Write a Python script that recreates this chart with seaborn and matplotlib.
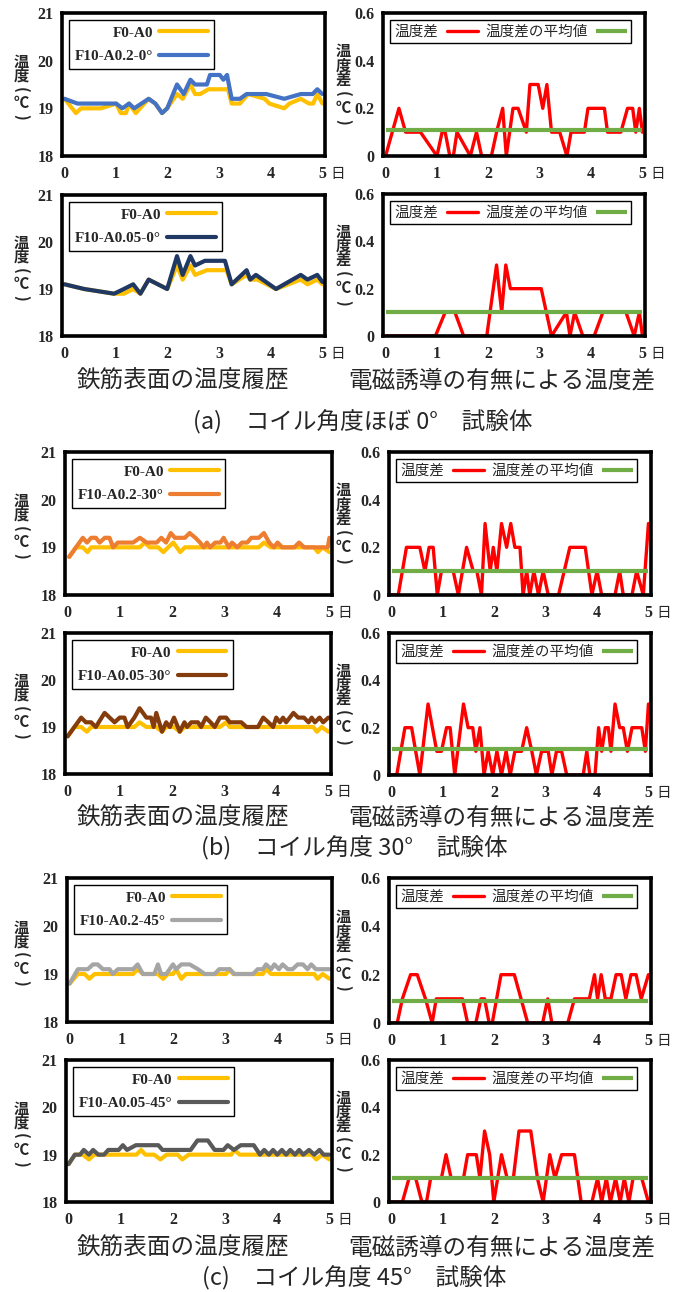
import matplotlib
matplotlib.use("Agg")
import matplotlib.pyplot as plt
import seaborn as sns
from matplotlib.font_manager import FontProperties
from matplotlib.ticker import FixedLocator, FixedFormatter

# ---------------------------------------------------------------- data
# (day, temperature °C) pairs for each sensor, and (day, °C) for differences
A1_F0 = [(0, 19.2), (0.22, 18.9), (0.32, 19.0), (0.71, 19.0), (1.0, 19.1), (1.09, 18.9), (1.19, 18.9),
         (1.25, 19.1), (1.38, 18.9), (1.63, 19.2), (1.76, 19.1), (1.89, 18.9), (1.99, 19.0), (2.18, 19.3),
         (2.29, 19.2), (2.44, 19.5), (2.53, 19.3), (2.63, 19.3), (2.79, 19.4), (3.17, 19.4), (3.24, 19.1),
         (3.40, 19.1), (3.56, 19.3), (3.88, 19.2), (3.97, 19.1), (4.26, 19.0), (4.36, 19.1), (4.58, 19.2),
         (4.74, 19.1), (4.82, 19.1), (4.90, 19.3), (5.0, 19.1)]
A1_F10 = [(0, 19.2), (0.25, 19.1), (1.0, 19.1), (1.12, 19.0), (1.25, 19.1), (1.35, 19.0), (1.63, 19.2),
          (1.76, 19.1), (1.89, 18.9), (1.99, 19.0), (2.18, 19.5), (2.31, 19.3), (2.44, 19.6), (2.53, 19.5),
          (2.76, 19.5), (2.82, 19.7), (3.01, 19.7), (3.08, 19.6), (3.15, 19.7), (3.24, 19.2), (3.40, 19.2),
          (3.53, 19.3), (3.91, 19.3), (4.26, 19.2), (4.58, 19.3), (4.81, 19.3), (4.90, 19.4), (5.0, 19.3)]
A1_DIFF = [(0, 0), (0.26, 0.2), (0.39, 0.1), (0.68, 0.1), (1.0, 0), (1.1, 0.1), (1.16, 0.1), (1.25, 0),
           (1.32, 0), (1.39, 0.1), (1.65, 0), (1.77, 0.1), (1.87, 0), (2.06, 0), (2.16, 0.1), (2.28, 0.2),
           (2.35, 0), (2.48, 0.2), (2.58, 0.2), (2.74, 0.1), (2.81, 0.3), (2.97, 0.3), (3.06, 0.2), (3.14, 0.3),
           (3.23, 0.1), (3.39, 0.1), (3.53, 0), (3.61, 0.1), (3.87, 0.1), (3.94, 0.2), (4.26, 0.2), (4.32, 0.1),
           (4.58, 0.1), (4.71, 0.2), (4.81, 0.2), (4.87, 0.1), (4.94, 0.2), (5.0, 0.1)]
A1_MEAN = 0.11

A2_F0 = [(0, 19.1), (0.38, 19.0), (0.96, 18.9), (1.15, 18.9), (1.33, 19.0), (1.47, 18.9), (1.63, 19.2),
         (1.99, 19.0), (2.18, 19.5), (2.29, 19.2), (2.44, 19.5), (2.53, 19.3), (2.76, 19.4), (3.14, 19.4),
         (3.24, 19.1), (3.53, 19.3), (3.60, 19.2), (3.74, 19.2), (4.10, 19.0), (4.58, 19.2), (4.71, 19.1),
         (4.90, 19.2), (5.0, 19.1)]
A2_F10 = [(0, 19.1), (0.38, 19.0), (0.96, 18.9), (1.15, 19.0), (1.33, 19.1), (1.47, 18.9), (1.63, 19.2),
          (1.99, 19.0), (2.18, 19.7), (2.29, 19.3), (2.44, 19.7), (2.53, 19.5), (2.72, 19.6), (3.11, 19.6),
          (3.24, 19.1), (3.53, 19.4), (3.60, 19.2), (3.71, 19.3), (4.10, 19.0), (4.58, 19.3), (4.71, 19.2),
          (4.90, 19.3), (5.0, 19.15)]
A2_DIFF = [(0, 0), (0.97, 0), (1.16, 0.1), (1.35, 0.1), (1.52, 0), (1.97, 0), (2.16, 0.3), (2.26, 0.1),
           (2.34, 0.3), (2.43, 0.2), (3.03, 0.2), (3.23, 0), (3.52, 0.1), (3.59, 0), (3.68, 0.1), (3.84, 0),
           (4.06, 0), (4.23, 0.1), (4.68, 0.1), (4.84, 0), (4.94, 0.1), (5.0, 0)]
A2_MEAN = 0.10

B1_F0 = [(0.03, 18.8), (0.16, 19.0), (0.29, 19.0), (0.38, 18.9), (0.45, 19.0), (1.38, 19.0), (1.47, 19.1),
         (1.57, 19.0), (1.73, 19.0), (1.83, 18.9), (1.92, 19.0), (2.02, 19.1), (2.15, 18.9), (2.24, 19.0),
         (3.65, 19.0), (3.75, 19.1), (3.88, 19.0), (4.71, 19.0), (4.78, 18.9), (4.87, 19.0), (5.0, 18.9)]
B1_F10 = [(0.03, 18.8), (0.16, 19.0), (0.29, 19.2), (0.37, 19.1), (0.45, 19.2), (0.54, 19.2), (0.61, 19.1),
          (0.71, 19.2), (0.80, 19.2), (0.87, 19.0), (0.96, 19.1), (1.25, 19.1), (1.38, 19.2), (1.51, 19.1),
          (1.70, 19.1), (1.79, 19.2), (1.88, 19.1), (1.97, 19.3), (2.05, 19.2), (2.24, 19.2), (2.33, 19.3),
          (2.44, 19.2), (2.53, 19.1), (2.60, 19.0), (2.66, 19.1), (2.72, 19.0), (2.82, 19.1), (2.92, 19.1),
          (2.98, 19.2), (3.08, 19.0), (3.14, 19.1), (3.24, 19.0), (3.33, 19.1), (3.43, 19.1), (3.51, 19.2),
          (3.65, 19.2), (3.75, 19.3), (3.85, 19.1), (3.94, 19.0), (4.01, 19.1), (4.10, 19.0), (4.33, 19.0),
          (4.42, 19.1), (4.52, 19.0), (4.97, 19.0), (5.0, 19.2)]
B1_DIFF = [(0, 0), (0.13, 0), (0.29, 0.2), (0.55, 0.2), (0.65, 0.1), (0.73, 0.2), (0.81, 0.2), (0.89, 0),
           (0.97, 0.1), (1.2, 0.1), (1.3, 0), (1.46, 0.2), (1.59, 0.1), (1.66, 0.1), (1.75, 0), (1.82, 0.3),
           (1.92, 0.1), (1.98, 0.2), (2.05, 0.1), (2.14, 0.3), (2.24, 0.2), (2.32, 0.3), (2.4, 0.2), (2.5, 0.2),
           (2.56, 0), (2.63, 0.1), (2.69, 0), (2.77, 0.1), (2.86, 0), (2.95, 0.1), (3.05, 0), (3.25, 0),
           (3.47, 0.2), (3.77, 0.2), (3.9, 0), (4.0, 0.1), (4.09, 0), (4.35, 0), (4.44, 0.1), (4.51, 0),
           (4.68, 0), (4.77, 0.1), (4.9, 0), (5.0, 0.3)]
B1_MEAN = 0.10

B2_F0 = [(0, 18.8), (0.13, 19.0), (0.26, 19.0), (0.37, 18.9), (0.45, 19.0), (1.28, 19.0), (1.38, 19.1),
         (1.51, 19.0), (1.70, 19.0), (1.81, 18.9), (1.89, 19.0), (2.04, 19.0), (2.15, 18.9), (2.24, 19.0),
         (2.92, 19.0), (3.04, 19.1), (3.11, 19.0), (4.71, 19.0), (4.78, 18.9), (4.87, 19.0), (5.0, 18.9)]
B2_F10 = [(0, 18.8), (0.13, 19.0), (0.26, 19.2), (0.35, 19.1), (0.45, 19.1), (0.54, 19.0), (0.71, 19.3),
          (0.90, 19.1), (1.0, 19.2), (1.09, 19.2), (1.15, 19.0), (1.28, 19.2), (1.38, 19.4), (1.51, 19.2),
          (1.60, 19.2), (1.65, 19.0), (1.70, 19.3), (1.81, 18.9), (1.89, 19.1), (1.96, 19.0), (2.04, 19.2),
          (2.15, 18.9), (2.24, 19.1), (2.29, 19.0), (2.37, 19.1), (2.50, 19.1), (2.56, 19.0), (2.65, 19.2),
          (2.74, 19.1), (2.82, 19.0), (2.92, 19.2), (3.04, 19.2), (3.11, 19.1), (3.33, 19.1), (3.43, 19.0),
          (3.65, 19.0), (3.75, 19.2), (3.85, 19.1), (3.94, 19.0), (4.0, 19.2), (4.07, 19.1), (4.13, 19.2),
          (4.19, 19.1), (4.33, 19.3), (4.42, 19.2), (4.53, 19.2), (4.62, 19.1), (4.68, 19.2), (4.74, 19.1),
          (4.83, 19.2), (4.90, 19.1), (5.0, 19.2)]
B2_DIFF = [(0, 0), (0.1, 0), (0.26, 0.2), (0.39, 0.2), (0.55, 0), (0.71, 0.3), (0.88, 0.1), (0.97, 0.1),
           (1.07, 0.2), (1.14, 0.2), (1.23, 0), (1.4, 0.3), (1.49, 0.2), (1.58, 0.2), (1.64, 0.1), (1.72, 0.2),
           (1.8, 0), (1.88, 0.1), (1.97, 0), (2.05, 0.1), (2.14, 0), (2.23, 0.1), (2.31, 0), (2.4, 0.1),
           (2.53, 0.1), (2.63, 0.2), (2.73, 0.1), (2.82, 0), (2.92, 0.1), (3.05, 0.1), (3.12, 0), (3.21, 0.1),
           (3.31, 0.1), (3.41, 0), (3.73, 0), (3.8, 0.1), (3.86, 0), (3.96, 0), (4.03, 0.2), (4.09, 0.1),
           (4.16, 0.2), (4.22, 0.2), (4.27, 0.1), (4.35, 0.3), (4.44, 0.2), (4.51, 0.2), (4.59, 0.1),
           (4.68, 0.2), (4.87, 0.2), (4.94, 0.1), (5.0, 0.3)]
B2_MEAN = 0.11

C1_F0 = [(0, 18.8), (0.16, 19.0), (0.29, 19.0), (0.38, 18.9), (0.48, 19.0), (1.22, 19.0), (1.31, 19.1),
         (1.41, 19.0), (1.70, 19.0), (1.80, 18.9), (1.89, 19.0), (1.99, 19.0), (2.05, 19.1), (2.15, 18.9),
         (2.24, 19.0), (3.01, 19.0), (3.08, 19.1), (3.15, 19.0), (3.72, 19.0), (3.78, 19.1), (3.88, 19.0),
         (4.71, 19.0), (4.77, 18.9), (4.87, 19.0), (5.0, 18.9)]
C1_F10 = [(0, 18.8), (0.16, 19.1), (0.35, 19.1), (0.45, 19.2), (0.54, 19.2), (0.64, 19.1), (0.77, 19.1),
          (0.83, 19.0), (0.93, 19.1), (1.22, 19.1), (1.31, 19.2), (1.41, 19.0), (1.63, 19.0), (1.70, 19.2),
          (1.76, 19.0), (1.86, 19.0), (1.99, 19.2), (2.05, 19.1), (2.15, 19.2), (2.31, 19.2), (2.47, 19.1),
          (2.60, 19.0), (2.79, 19.0), (2.88, 19.1), (3.08, 19.1), (3.17, 19.0), (3.53, 19.0), (3.62, 19.1),
          (3.72, 19.1), (3.78, 19.2), (3.88, 19.1), (3.94, 19.2), (4.03, 19.1), (4.10, 19.2), (4.20, 19.1),
          (4.29, 19.1), (4.39, 19.2), (4.49, 19.2), (4.58, 19.1), (4.65, 19.2), (4.74, 19.1), (5.0, 19.1)]
C1_DIFF = [(0, 0), (0.11, 0), (0.21, 0.1), (0.37, 0.2), (0.5, 0.2), (0.66, 0.1), (0.79, 0), (0.87, 0.1),
           (1.38, 0.1), (1.48, 0), (1.64, 0), (1.74, 0.1), (1.81, 0.1), (1.9, 0), (1.96, 0), (2.13, 0.2),
           (2.39, 0.2), (2.65, 0), (2.94, 0), (3.04, 0.1), (3.12, 0), (3.43, 0), (3.56, 0.1), (3.85, 0.1),
           (3.95, 0.2), (4.01, 0.1), (4.08, 0.2), (4.16, 0.1), (4.27, 0.1), (4.37, 0.2), (4.47, 0.2),
           (4.56, 0.1), (4.66, 0.2), (4.76, 0.2), (4.86, 0.1), (5.0, 0.2)]
C1_MEAN = 0.09

C2_F0 = [(0, 18.8), (0.12, 19.0), (0.27, 19.0), (0.39, 18.9), (0.49, 19.0), (1.30, 19.0), (1.39, 19.1),
         (1.47, 19.0), (1.64, 19.0), (1.76, 18.9), (1.88, 19.0), (2.09, 19.0), (2.18, 18.9), (2.30, 19.0),
         (3.12, 19.0), (3.18, 19.1), (3.28, 19.0), (4.66, 19.0), (4.75, 18.9), (4.86, 19.0), (5.0, 18.9)]
C2_F10 = [(0, 18.8), (0.12, 19.0), (0.22, 19.0), (0.29, 19.1), (0.39, 19.0), (0.47, 19.1), (0.57, 19.0),
          (0.68, 19.0), (0.76, 19.1), (0.96, 19.1), (1.04, 19.2), (1.12, 19.1), (1.29, 19.2), (1.72, 19.2),
          (1.80, 19.1), (2.34, 19.1), (2.47, 19.3), (2.67, 19.3), (2.80, 19.1), (2.97, 19.1), (3.05, 19.2),
          (3.17, 19.1), (3.30, 19.2), (3.55, 19.2), (3.67, 19.0), (3.75, 19.1), (3.84, 19.0), (3.92, 19.1),
          (4.0, 19.0), (4.09, 19.1), (4.17, 19.0), (4.25, 19.1), (4.34, 19.0), (4.42, 19.1), (4.50, 19.0),
          (4.61, 19.1), (4.71, 19.0), (4.81, 19.1), (4.89, 19.0), (5.0, 19.0)]
C2_DIFF = [(0, 0), (0.21, 0), (0.34, 0.1), (0.47, 0.1), (0.59, 0), (0.68, 0), (0.76, 0.1), (0.97, 0.1),
           (1.06, 0.2), (1.16, 0.1), (1.4, 0.1), (1.48, 0.2), (1.65, 0.2), (1.72, 0.1), (1.81, 0.3),
           (1.91, 0.2), (1.99, 0), (2.14, 0.2), (2.25, 0.1), (2.37, 0.1), (2.48, 0.3), (2.71, 0.3),
           (2.84, 0.1), (2.95, 0), (3.08, 0.2), (3.18, 0.1), (3.31, 0.2), (3.56, 0.2), (3.69, 0), (3.9, 0),
           (4.01, 0.1), (4.09, 0), (4.18, 0.1), (4.26, 0), (4.36, 0.1), (4.45, 0), (4.53, 0.1), (4.62, 0),
           (4.7, 0.1), (4.87, 0.1), (5.0, 0)]
C2_MEAN = 0.10

REF_LABEL = "F0-A0"
TEST_LABELS = ["F10-A0.2-0°", "F10-A0.05-0°", "F10-A0.2-30°", "F10-A0.05-30°",
               "F10-A0.2-45°", "F10-A0.05-45°"]
TEMP_TICKS = [18, 19, 20, 21]
DIFF_TICKS = [0, 0.2, 0.4, 0.6]
DIFF_TICK_LABELS = ["0", "0.2", "0.4", "0.6"]
DAY_TICKS = [0, 1, 2, 3, 4, 5]
TEMP_TITLE = "温度(℃)"
DIFF_TITLE = "温度差(℃)"
DIFF_LABEL = "温度差"
MEAN_LABEL = "温度差の平均値"
LEFT_CAPTION = "鉄筋表面の温度履歴"
RIGHT_CAPTION = "電磁誘導の有無による温度差"
GROUP_CAPTIONS = ["(a)　コイル角度ほぼ 0°　試験体", "(b)　コイル角度 30°　試験体", "(c)　コイル角度 45°　試験体"]

# ---------------------------------------------------------------- style
YELLOW = "#FFC000"
TEST_COLORS = ["#4472C4", "#1F3864", "#ED7D31", "#843C0C", "#A5A5A5", "#595959"]
RED = "#FF0000"
GREEN = "#70AD47"

sns.set_theme(style="white")
plt.rcParams["font.family"] = ["Liberation Serif", "Noto Sans CJK JP"]
plt.rcParams["axes.linewidth"] = 2.6
plt.rcParams["axes.edgecolor"] = "black"

CJK = ["Noto Sans CJK JP", "DejaVu Sans"]
TICK_FONT = FontProperties(family="Liberation Serif", weight="bold", size=11.5)
LEG_FONT = FontProperties(family="Liberation Serif", weight="bold", size=11)
LEG_CJK = FontProperties(family="Noto Sans CJK JP", size=10.5)

W, H = 680, 1292
fig = plt.figure(figsize=(W / 100, H / 100), dpi=100)


def box(x0, y0, x1, y1):
    return [x0 / W, 1 - y1 / H, (x1 - x0) / W, (y1 - y0) / H]


def split(pairs):
    return [p[0] for p in pairs], [p[1] for p in pairs]


def stacked_title(x, yc, text, step=14):
    """Write an axis title one character per line (vertical Japanese setting);
    brackets are turned a quarter so they open along the column."""
    n = len(text)
    for k, ch in enumerate(text):
        y = yc + (k - (n - 1) / 2) * step
        rot = -90 if ch in "()" else 0
        fig.text(x / W, 1 - y / H, ch, ha="center", va="center", rotation=rot,
                 fontsize=11, weight="bold", family=CJK)


def style_axis(ax, yticks, ylabels):
    ax.set_xlim(-0.05, 5.05)
    ax.xaxis.set_major_locator(FixedLocator(DAY_TICKS))
    ax.xaxis.set_major_formatter(FixedFormatter([str(d) for d in DAY_TICKS]))
    ax.yaxis.set_major_locator(FixedLocator(yticks))
    ax.yaxis.set_major_formatter(FixedFormatter(ylabels))
    ax.tick_params(axis="both", length=0)
    ax.tick_params(axis="x", pad=7)
    ax.tick_params(axis="y", pad=6)
    for lab in ax.get_xticklabels() + ax.get_yticklabels():
        lab.set_fontproperties(TICK_FONT)
    ax.set_xlabel("")
    ax.set_ylabel("")
    for s in ax.spines.values():
        s.set_visible(True)
        s.set_linewidth(2.6)
        s.set_color("black")
    ax.grid(False)
    ax.annotate("日", xy=(5, 0), xycoords=("data", "axes fraction"), xytext=(6, -8),
                textcoords="offset points", ha="left", va="top", fontsize=10.5, family=CJK)


def temp_panel(ax, ref, test, label, color):
    x, y = split(ref)
    sns.lineplot(x=x, y=y, ax=ax, color=YELLOW, linewidth=3, label=REF_LABEL,
                 estimator=None, sort=False)
    x, y = split(test)
    sns.lineplot(x=x, y=y, ax=ax, color=color, linewidth=3, label=label,
                 estimator=None, sort=False)
    ax.set_ylim(18, 21)
    style_axis(ax, TEMP_TICKS, [str(t) for t in TEMP_TICKS])
    leg = ax.legend(loc="upper left", bbox_to_anchor=(0.0, 1.0), markerfirst=False,
                    frameon=True, fancybox=False, framealpha=1, edgecolor="black",
                    prop=LEG_FONT, handlelength=3.2, handletextpad=0.4,
                    labelspacing=0.65, borderpad=0.4, borderaxespad=0.45)
    leg.get_frame().set_linewidth(1.0)


def diff_panel(ax, diff, mean):
    x, y = split(diff)
    sns.lineplot(x=x, y=y, ax=ax, color=RED, linewidth=2.4, label=DIFF_LABEL,
                 estimator=None, sort=False)
    ax.hlines(mean, x[0], x[-1], color=GREEN, linewidth=3.0, label=MEAN_LABEL, zorder=3)
    ax.set_ylim(0, 0.6)
    style_axis(ax, DIFF_TICKS, DIFF_TICK_LABELS)
    leg = ax.legend(loc="upper left", bbox_to_anchor=(0.0, 1.0), ncol=2, markerfirst=False,
                    frameon=True, fancybox=False, framealpha=1, edgecolor="black",
                    prop=LEG_CJK, handlelength=2.1, handletextpad=0.6,
                    columnspacing=0.5, borderpad=0.3, borderaxespad=0.5)
    leg.get_frame().set_linewidth(1.0)


# panel boxes in pixels: (left box, right box)
ROWS = [
    ((62, 13, 325, 156), (383, 13, 645, 156)),
    ((62, 195, 325, 336), (383, 194, 645, 336)),
    ((65, 452, 332, 595), (389, 452, 651, 595)),
    ((65, 633, 331, 774), (389, 633, 651, 775)),
    ((67, 878, 332, 1022), (389, 878, 651, 1023)),
    ((66, 1060, 332, 1202), (389, 1060, 651, 1202)),
]
SERIES = [(A1_F0, A1_F10, A1_DIFF, A1_MEAN), (A2_F0, A2_F10, A2_DIFF, A2_MEAN),
          (B1_F0, B1_F10, B1_DIFF, B1_MEAN), (B2_F0, B2_F10, B2_DIFF, B2_MEAN),
          (C1_F0, C1_F10, C1_DIFF, C1_MEAN), (C2_F0, C2_F10, C2_DIFF, C2_MEAN)]

for i, ((lb, rb), (f0, f10, diff, mean)) in enumerate(zip(ROWS, SERIES)):
    axl = fig.add_axes(box(*lb))
    temp_panel(axl, f0, f10, TEST_LABELS[i], TEST_COLORS[i])
    axr = fig.add_axes(box(*rb))
    diff_panel(axr, diff, mean)
    stacked_title(21, (lb[1] + lb[3]) / 2 + 5, TEMP_TITLE, step=13.8)
    stacked_title(343, (rb[1] + rb[3]) / 2 + 2, DIFF_TITLE, step=14.2)

# captions under each pair of rows
CAPTION_Y = [(381, 422), (818, 848), (1248, 1278)]
GROUP_X = [363, 354, 354]
for (yc, yg), gx, gcap in zip(CAPTION_Y, GROUP_X, GROUP_CAPTIONS):
    fig.text(183 / W, 1 - yc / H, LEFT_CAPTION, ha="center", va="center", fontsize=17, family=CJK)
    fig.text(502 / W, 1 - yc / H, RIGHT_CAPTION, ha="center", va="center", fontsize=17, family=CJK)
    fig.text(gx / W, 1 - yg / H, gcap, ha="center", va="center", fontsize=17, family=CJK)

fig.savefig("out.png", dpi=100, facecolor="white")
